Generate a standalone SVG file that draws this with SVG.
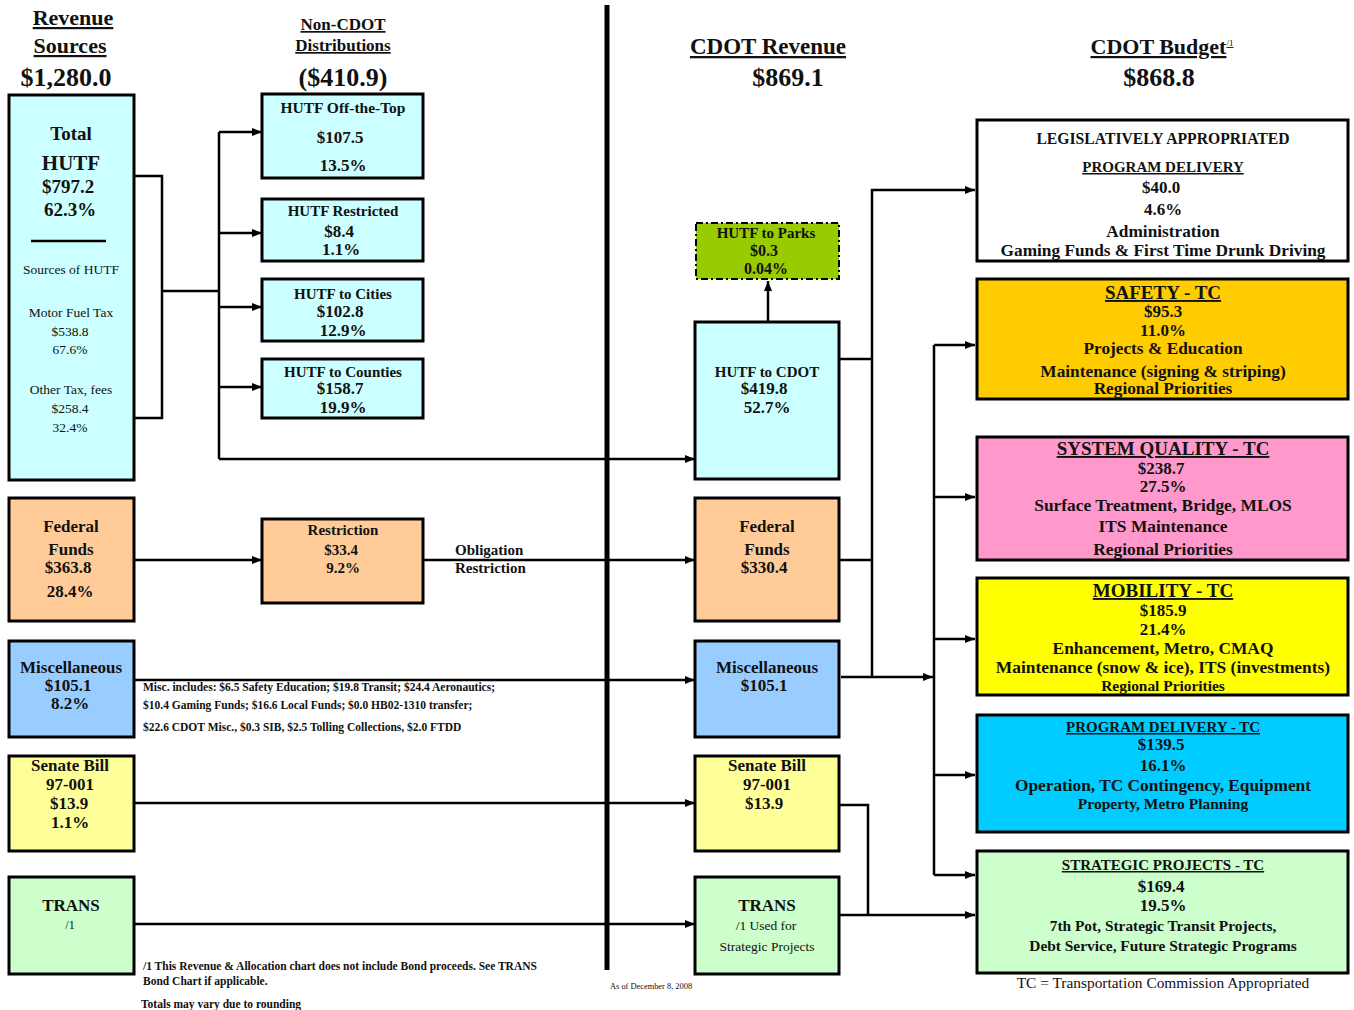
<svg xmlns="http://www.w3.org/2000/svg" width="1354" height="1010" viewBox="0 0 1354 1010">
<style>
text{font-family:"Liberation Serif","Times New Roman",serif;font-weight:bold;fill:#111;text-anchor:middle}
.n{font-weight:normal}
.l{text-anchor:start}
.u{text-decoration:underline}
.box{stroke:#000;stroke-width:3}
.c{fill:none;stroke:#000;stroke-width:2.5}
</style>
<defs>
<marker id="a" viewBox="0 0 10 10" refX="10" refY="5" markerWidth="4" markerHeight="4" orient="auto" markerUnits="strokeWidth"><path d="M0,1 L10,5 L0,9 z" fill="#000"/></marker>
</defs>
<rect width="1354" height="1010" fill="#fff"/>

<g id="headers">
<text x="73" y="25" font-size="22" class="u">Revenue </text>
<text x="70" y="53" font-size="22" class="u">Sources</text>
<text x="66" y="86" font-size="26">$1,280.0</text>
<text x="343" y="30" font-size="17" class="u">Non-CDOT </text>
<text x="343" y="51" font-size="17" class="u">Distributions</text>
<text x="343" y="86" font-size="26">($410.9)</text>
<text x="768" y="54" font-size="23" class="u">CDOT Revenue</text>
<text x="788" y="86" font-size="26">$869.1</text>
<text x="1162" y="54" font-size="22" class="u">CDOT Budget<tspan font-size="9" font-weight="normal" dy="-8">/1</tspan></text>
<text x="1159" y="86" font-size="26">$868.8</text>
</g>

<line x1="607" y1="5" x2="607" y2="970" stroke="#000" stroke-width="5"/>

<g id="connectors">
<polyline class="c" points="134,176 162,176 162,418 134,418"/>
<line class="c" x1="162" y1="291" x2="219" y2="291"/>
<line class="c" x1="219" y1="132" x2="219" y2="459"/>
<line class="c" x1="219" y1="132" x2="262" y2="132" marker-end="url(#a)"/>
<line class="c" x1="219" y1="233" x2="262" y2="233" marker-end="url(#a)"/>
<line class="c" x1="219" y1="307" x2="262" y2="307" marker-end="url(#a)"/>
<line class="c" x1="219" y1="387" x2="262" y2="387" marker-end="url(#a)"/>
<line class="c" x1="219" y1="459" x2="695" y2="459" marker-end="url(#a)"/>
<line class="c" x1="768" y1="322" x2="768" y2="281" marker-end="url(#a)"/>
<line class="c" x1="134" y1="560" x2="262" y2="560" marker-end="url(#a)"/>
<line class="c" x1="423" y1="560" x2="695" y2="560" marker-end="url(#a)"/>
<line class="c" x1="134" y1="680" x2="695" y2="680" marker-end="url(#a)"/>
<line class="c" x1="134" y1="803" x2="695" y2="803" marker-end="url(#a)"/>
<line class="c" x1="134" y1="924" x2="695" y2="924" marker-end="url(#a)"/>
<line class="c" x1="839" y1="359" x2="872" y2="359"/>
<line class="c" x1="839" y1="560" x2="872" y2="560"/>
<polyline class="c" points="872,676 872,190 975,190" marker-end="url(#a)"/>
<line class="c" x1="841" y1="677" x2="933" y2="677" marker-end="url(#a)"/>
<line class="c" x1="934" y1="345" x2="934" y2="875"/>
<line class="c" x1="934" y1="345" x2="975" y2="345" marker-end="url(#a)"/>
<line class="c" x1="934" y1="497" x2="975" y2="497" marker-end="url(#a)"/>
<line class="c" x1="934" y1="639" x2="975" y2="639" marker-end="url(#a)"/>
<line class="c" x1="934" y1="775" x2="975" y2="775" marker-end="url(#a)"/>
<line class="c" x1="934" y1="875" x2="975" y2="875" marker-end="url(#a)"/>
<polyline class="c" points="839,805 868,805 868,915"/>
<line class="c" x1="839" y1="915" x2="975" y2="915" marker-end="url(#a)"/>
</g>

<g id="total-hutf">
<rect class="box" x="9" y="95" width="125" height="385" fill="#ccffff"/>
<text x="71" y="140" font-size="19">Total</text>
<text x="71" y="170" font-size="21">HUTF</text>
<text x="68" y="193" font-size="19">$797.2</text>
<text x="70" y="216" font-size="19">62.3%</text>
<line x1="31" y1="241" x2="106" y2="241" stroke="#000" stroke-width="2.5"/>
<text x="71" y="274" font-size="13.5" class="n">Sources of HUTF</text>
<text x="71" y="317" font-size="13.5" class="n">Motor Fuel Tax</text>
<text x="70" y="336" font-size="13.5" class="n">$538.8</text>
<text x="70" y="354" font-size="13.5" class="n">67.6%</text>
<text x="71" y="394" font-size="13.5" class="n">Other Tax, fees</text>
<text x="70" y="413" font-size="13.5" class="n">$258.4</text>
<text x="70" y="432" font-size="13.5" class="n">32.4%</text>
</g>

<g id="hutf-off-top">
<rect class="box" x="262" y="94" width="161" height="84" fill="#ccffff"/>
<text x="343" y="113" font-size="15.5">HUTF Off-the-Top</text>
<text x="340" y="143" font-size="17">$107.5</text>
<text x="343" y="171" font-size="17">13.5%</text>
</g>
<g id="hutf-restricted">
<rect class="box" x="262" y="199" width="161" height="62" fill="#ccffff"/>
<text x="343" y="216" font-size="15">HUTF Restricted</text>
<text x="339" y="237" font-size="17">$8.4</text>
<text x="341" y="255" font-size="17">1.1%</text>
</g>
<g id="hutf-cities">
<rect class="box" x="262" y="279" width="161" height="62" fill="#ccffff"/>
<text x="343" y="299" font-size="15">HUTF to Cities</text>
<text x="340" y="317" font-size="17">$102.8</text>
<text x="343" y="336" font-size="17">12.9%</text>
</g>
<g id="hutf-counties">
<rect class="box" x="262" y="359" width="161" height="59" fill="#ccffff"/>
<text x="343" y="377" font-size="15">HUTF to Counties</text>
<text x="340" y="394" font-size="17">$158.7</text>
<text x="343" y="413" font-size="17">19.9%</text>
</g>

<g id="hutf-parks">
<rect x="696" y="223" width="143" height="56" fill="#99cc00" stroke="#000" stroke-width="2" stroke-dasharray="7,3,2,3"/>
<text x="766" y="238" font-size="15">HUTF to Parks</text>
<text x="764" y="256" font-size="16">$0.3</text>
<text x="766" y="274" font-size="16">0.04%</text>
</g>
<g id="hutf-cdot">
<rect class="box" x="695" y="322" width="144" height="157" fill="#ccffff"/>
<text x="767" y="377" font-size="15">HUTF to CDOT</text>
<text x="764" y="394" font-size="17">$419.8</text>
<text x="767" y="413" font-size="17">52.7%</text>
</g>

<g id="federal-src">
<rect class="box" x="9" y="498" width="125" height="123" fill="#ffcc99"/>
<text x="71" y="532" font-size="17">Federal</text>
<text x="71" y="555" font-size="17">Funds</text>
<text x="68" y="573" font-size="17">$363.8</text>
<text x="70" y="597" font-size="17">28.4%</text>
</g>
<g id="restriction">
<rect class="box" x="262" y="519" width="161" height="84" fill="#ffcc99"/>
<text x="343" y="535" font-size="15">Restriction</text>
<text x="341" y="555" font-size="15">$33.4</text>
<text x="343" y="573" font-size="15">9.2%</text>
</g>
<text x="455" y="555" font-size="15" class="l">Obligation</text>
<text x="455" y="573" font-size="15" class="l">Restriction</text>
<g id="federal-cdot">
<rect class="box" x="695" y="498" width="144" height="123" fill="#ffcc99"/>
<text x="767" y="532" font-size="17">Federal</text>
<text x="767" y="555" font-size="17">Funds</text>
<text x="764" y="573" font-size="17">$330.4</text>
</g>

<g id="misc-src">
<rect class="box" x="9" y="641" width="125" height="96" fill="#99ccff"/>
<text x="71" y="673" font-size="17">Miscellaneous</text>
<text x="68" y="691" font-size="17">$105.1</text>
<text x="70" y="709" font-size="17">8.2%</text>
</g>
<text x="143" y="691" font-size="11.5" class="l">Misc. includes: $6.5 Safety Education; $19.8 Transit; $24.4 Aeronautics;</text>
<text x="143" y="709" font-size="11.5" class="l">$10.4 Gaming Funds; $16.6 Local Funds; $0.0 HB02-1310 transfer;</text>
<text x="143" y="731" font-size="11.5" class="l">$22.6 CDOT Misc., $0.3 SIB, $2.5 Tolling Collections, $2.0 FTDD</text>
<g id="misc-cdot">
<rect class="box" x="695" y="641" width="144" height="96" fill="#99ccff"/>
<text x="767" y="673" font-size="17">Miscellaneous</text>
<text x="764" y="691" font-size="17">$105.1</text>
</g>

<g id="senate-src">
<rect class="box" x="9" y="756" width="125" height="95" fill="#ffff99"/>
<text x="70" y="771" font-size="17">Senate Bill</text>
<text x="70" y="790" font-size="17">97-001</text>
<text x="69" y="809" font-size="17">$13.9</text>
<text x="70" y="828" font-size="17">1.1%</text>
</g>
<g id="senate-cdot">
<rect class="box" x="695" y="756" width="144" height="95" fill="#ffff99"/>
<text x="767" y="771" font-size="17">Senate Bill</text>
<text x="767" y="790" font-size="17">97-001</text>
<text x="764" y="809" font-size="17">$13.9</text>
</g>

<g id="trans-src">
<rect class="box" x="9" y="877" width="125" height="97" fill="#ccffcc"/>
<text x="71" y="911" font-size="17">TRANS</text>
<text x="70" y="929" font-size="12" class="n">/1</text>
</g>
<g id="trans-cdot">
<rect class="box" x="695" y="877" width="144" height="97" fill="#ccffcc"/>
<text x="767" y="911" font-size="17">TRANS</text>
<text x="766" y="930" font-size="13.5" class="n">/1 Used for</text>
<text x="767" y="951" font-size="13.5" class="n">Strategic Projects</text>
</g>

<text x="143" y="970" font-size="11.5" class="l">/1 This Revenue &amp; Allocation chart does not include Bond proceeds. See TRANS</text>
<text x="143" y="985" font-size="11.5" class="l">Bond Chart if applicable.</text>
<text x="141" y="1008" font-size="11.5" class="l">Totals may vary due to rounding</text>
<text x="610" y="989" font-size="8.4" class="n l">As of December 8, 2008</text>

<g id="legislative">
<rect class="box" x="977" y="120" width="371" height="141" fill="#fff"/>
<text x="1163" y="144" font-size="15.7">LEGISLATIVELY APPROPRIATED</text>
<text x="1163" y="172" font-size="15" class="u">PROGRAM DELIVERY</text>
<text x="1161" y="193" font-size="17">$40.0</text>
<text x="1163" y="215" font-size="17">4.6%</text>
<text x="1163" y="237" font-size="17.3">Administration</text>
<text x="1163" y="256" font-size="17.3">Gaming Funds &amp; First Time Drunk Driving</text>
</g>
<g id="safety">
<rect class="box" x="977" y="279" width="371" height="120" fill="#ffcc00"/>
<text x="1163" y="299" font-size="19" class="u">SAFETY - TC</text>
<text x="1163" y="317" font-size="17">$95.3</text>
<text x="1163" y="336" font-size="17">11.0%</text>
<text x="1163" y="354" font-size="17.3">Projects &amp; Education</text>
<text x="1163" y="377" font-size="17.3">Maintenance (signing &amp; striping)</text>
<text x="1163" y="394" font-size="17.3">Regional Priorities</text>
</g>
<g id="system-quality">
<rect class="box" x="977" y="437" width="371" height="123" fill="#ff99cc"/>
<text x="1163" y="455" font-size="19" class="u">SYSTEM QUALITY - TC</text>
<text x="1161" y="474" font-size="17">$238.7</text>
<text x="1163" y="492" font-size="17">27.5%</text>
<text x="1163" y="511" font-size="17.4">Surface Treatment, Bridge, MLOS</text>
<text x="1163" y="532" font-size="17.4">ITS Maintenance</text>
<text x="1163" y="555" font-size="17.4">Regional Priorities</text>
</g>
<g id="mobility">
<rect class="box" x="977" y="578" width="371" height="117" fill="#ffff00"/>
<text x="1163" y="597" font-size="19" class="u">MOBILITY - TC</text>
<text x="1163" y="616" font-size="17">$185.9</text>
<text x="1163" y="635" font-size="17">21.4%</text>
<text x="1163" y="654" font-size="17.4">Enhancement, Metro, CMAQ</text>
<text x="1163" y="673" font-size="17.4">Maintenance (snow &amp; ice), ITS (investments)</text>
<text x="1163" y="691" font-size="15.4">Regional Priorities</text>
</g>
<g id="program-delivery">
<rect class="box" x="977" y="715" width="371" height="117" fill="#00ccff"/>
<text x="1163" y="732" font-size="15" class="u">PROGRAM DELIVERY - TC</text>
<text x="1161" y="750" font-size="17">$139.5</text>
<text x="1163" y="771" font-size="17">16.1%</text>
<text x="1163" y="791" font-size="17.3">Operation, TC Contingency, Equipment</text>
<text x="1163" y="809" font-size="15.5">Property, Metro Planning</text>
</g>
<g id="strategic">
<rect class="box" x="977" y="851" width="371" height="122" fill="#ccffcc"/>
<text x="1163" y="870" font-size="15" class="u">STRATEGIC PROJECTS - TC</text>
<text x="1161" y="892" font-size="17">$169.4</text>
<text x="1163" y="911" font-size="17">19.5%</text>
<text x="1163" y="931" font-size="15.4">7th Pot, Strategic Transit Projects,</text>
<text x="1163" y="951" font-size="15.4">Debt Service, Future Strategic Programs</text>
</g>
<text x="1163" y="988" font-size="15.4" class="n">TC = Transportation Commission Appropriated</text>
</svg>
